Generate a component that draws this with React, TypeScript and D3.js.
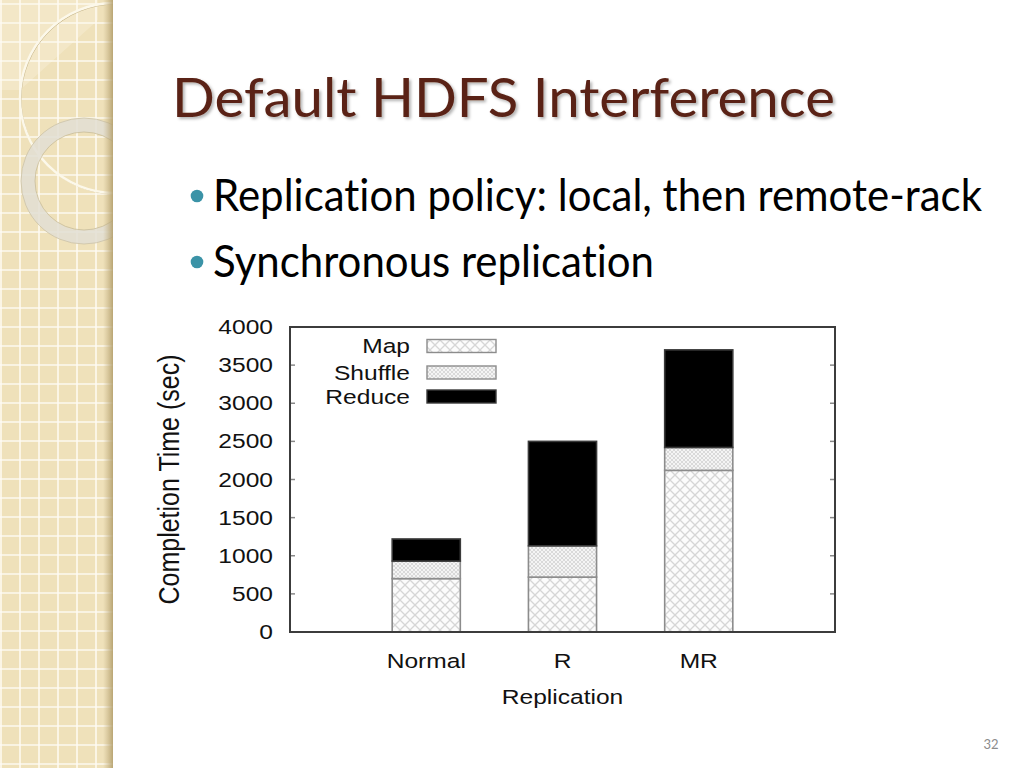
import React, { useEffect, useRef } from 'react';
import * as d3 from 'd3';

// chart data (seconds)
const categories = ['Normal', 'R', 'MR'];
const mapTimes = [700, 720, 2120];
const shuffleTimes = [230, 410, 300];
const reduceTimes = [290, 1370, 1280];
const phases = ['Map', 'Shuffle', 'Reduce'];
const yTicks = [0, 500, 1000, 1500, 2000, 2500, 3000, 3500, 4000];

// slide text
const slideTitle = 'Default HDFS Interference';
const bullets = ['Replication policy: local, then remote-rack', 'Synchronous replication'];
const pageNumber = '32';

export default function App() {
  const svgRef = useRef<SVGSVGElement>(null);

  useEffect(() => {
    if (!svgRef.current) return;
    const svg = d3.select(svgRef.current);
    svg.selectAll('*').remove();

    const W = 1024;
    const H = 768;
    const panelW = 113;
    const defs = svg.append('defs');

    svg.append('rect').attr('width', W).attr('height', H).attr('fill', '#fff');

    // ---- left decorative panel ----
    defs.append('clipPath').attr('id', 'panelClip')
      .append('rect').attr('width', panelW).attr('height', H);

    const edge = defs.append('linearGradient').attr('id', 'edgeShade');
    edge.append('stop').attr('offset', '0%').attr('stop-color', '#c3b083').attr('stop-opacity', 0);
    edge.append('stop').attr('offset', '100%').attr('stop-color', '#b39f6c').attr('stop-opacity', 0.9);

    const panel = svg.append('g').attr('clip-path', 'url(#panelClip)');
    panel.append('rect').attr('width', panelW).attr('height', H).attr('fill', '#efe1ba');

    const step = 19;
    panel.selectAll('line.v')
      .data(d3.range(1, panelW, step))
      .join('line')
      .attr('x1', d => d).attr('x2', d => d)
      .attr('y1', 0).attr('y2', H)
      .attr('stroke', '#fffdf6').attr('stroke-width', 1.6).attr('opacity', 0.9);
    panel.selectAll('line.h')
      .data(d3.range(4, H, step))
      .join('line')
      .attr('x1', 0).attr('x2', panelW)
      .attr('y1', d => d).attr('y2', d => d)
      .attr('stroke', '#fffdf6').attr('stroke-width', 1.6).attr('opacity', 0.9);

    // faint light wedge top-left
    panel.append('path')
      .attr('d', 'M0,0 L98,0 L98,20 L20,90 L0,90 Z')
      .attr('fill', '#fffaf0').attr('opacity', 0.25);

    // big thin circle
    panel.append('circle').attr('cx', 116).attr('cy', 99).attr('r', 95)
      .attr('fill', 'none').attr('stroke', '#c9b98e').attr('stroke-width', 1);
    panel.append('circle').attr('cx', 115).attr('cy', 98).attr('r', 95)
      .attr('fill', 'none').attr('stroke', '#fcf8ea').attr('stroke-width', 2.4);

    // translucent thick ring
    panel.append('circle').attr('cx', 84).attr('cy', 181).attr('r', 56)
      .attr('fill', 'none').attr('stroke', '#e2ded3').attr('stroke-width', 14).attr('opacity', 0.85);
    panel.append('circle').attr('cx', 84).attr('cy', 181).attr('r', 63)
      .attr('fill', 'none').attr('stroke', '#cdc3a6').attr('stroke-width', 0.8);
    panel.append('circle').attr('cx', 84).attr('cy', 181).attr('r', 49)
      .attr('fill', 'none').attr('stroke', '#c8bc9a').attr('stroke-width', 0.8);

    panel.append('rect').attr('x', 103).attr('width', 10).attr('height', H).attr('fill', 'url(#edgeShade)');

    // ---- title & bullets ----
    const shadow = defs.append('filter').attr('id', 'titleShadow')
      .attr('x', '-5%').attr('y', '-20%').attr('width', '110%').attr('height', '150%');
    shadow.append('feDropShadow')
      .attr('dx', 2).attr('dy', 2).attr('stdDeviation', 1.5)
      .attr('flood-color', '#000').attr('flood-opacity', 0.3);

    const slideFont = 'Lato, "Open Sans", sans-serif';

    svg.append('text')
      .attr('x', 172).attr('y', 117)
      .attr('font-family', slideFont)
      .attr('font-size', 54)
      .attr('fill', '#5a2415')
      .attr('textLength', 663)
      .attr('lengthAdjust', 'spacingAndGlyphs')
      .attr('filter', 'url(#titleShadow)')
      .style('font-variant-ligatures', 'none')
      .text(slideTitle);

    const bulletRows = [
      { text: bullets[0], y: 211, len: 769 },
      { text: bullets[1], y: 277, len: 441 },
    ];
    bulletRows.forEach(b => {
      svg.append('circle').attr('cx', 197).attr('cy', b.y - 15).attr('r', 6.3).attr('fill', '#3b93a7');
      svg.append('text')
        .attr('x', 213).attr('y', b.y)
        .attr('font-family', slideFont)
        .attr('font-size', 44)
        .attr('fill', '#000')
        .attr('textLength', b.len)
        .attr('lengthAdjust', 'spacingAndGlyphs')
        .style('font-variant-ligatures', 'none')
        .text(b.text);
    });

    svg.append('text')
      .attr('x', 991).attr('y', 749)
      .attr('text-anchor', 'middle')
      .attr('font-family', slideFont)
      .attr('font-size', 13)
      .attr('fill', '#8c8c8c')
      .text(pageNumber);

    // ---- chart ----
    const plot = { left: 290, right: 835, top: 327, bottom: 632 };
    const x = d3.scaleLinear().domain([0, 4]).range([plot.left, plot.right]);
    const y = d3.scaleLinear().domain([0, 4000]).range([plot.bottom, plot.top]);
    const barW = x(0.5) - x(0);
    const font = '"Liberation Sans", Arial, sans-serif';
    const fs = 19.5;
    const sx = 1.26; // the figure is stretched horizontally

    const mapPat = defs.append('pattern').attr('id', 'mapHatch')
      .attr('patternUnits', 'userSpaceOnUse').attr('width', 10).attr('height', 10);
    mapPat.append('rect').attr('width', 10).attr('height', 10).attr('fill', '#fcfcfc');
    mapPat.append('path').attr('d', 'M0,0 L10,10 M10,0 L0,10')
      .attr('stroke', '#d6d6d6').attr('stroke-width', 1.3);

    const shufPat = defs.append('pattern').attr('id', 'shuffleHatch')
      .attr('patternUnits', 'userSpaceOnUse').attr('width', 4).attr('height', 4);
    shufPat.append('rect').attr('width', 4).attr('height', 4).attr('fill', '#f4f4f4');
    shufPat.append('path').attr('d', 'M0,0 L4,4 M4,0 L0,4')
      .attr('stroke', '#d6d6d6').attr('stroke-width', 0.9);

    const fills: Record<string, string> = { Map: 'url(#mapHatch)', Shuffle: 'url(#shuffleHatch)', Reduce: '#000' };
    const strokes: Record<string, string> = { Map: '#8c8c8c', Shuffle: '#8c8c8c', Reduce: '#3a3a3a' };

    const rows = categories.map((c, i) => ({ cat: c, i, Map: mapTimes[i], Shuffle: shuffleTimes[i], Reduce: reduceTimes[i] }));
    const stacked = d3.stack<any>().keys(phases)(rows);

    const g = svg.append('g');
    stacked.forEach(layer => {
      g.selectAll(null)
        .data(layer)
        .join('rect')
        .attr('x', d => x(d.data.i + 1) - barW / 2)
        .attr('y', d => y(d[1]))
        .attr('width', barW)
        .attr('height', d => y(d[0]) - y(d[1]))
        .attr('fill', fills[layer.key])
        .attr('stroke', strokes[layer.key])
        .attr('stroke-width', 1.6);
    });

    // ticks (inward, both sides)
    yTicks.slice(1, -1).forEach(t => {
      g.append('line').attr('x1', plot.left).attr('x2', plot.left + 5)
        .attr('y1', y(t)).attr('y2', y(t)).attr('stroke', '#888').attr('stroke-width', 1.5);
      g.append('line').attr('x1', plot.right - 5).attr('x2', plot.right)
        .attr('y1', y(t)).attr('y2', y(t)).attr('stroke', '#888').attr('stroke-width', 1.5);
    });

    // frame
    g.append('rect')
      .attr('x', plot.left).attr('y', plot.top)
      .attr('width', plot.right - plot.left).attr('height', plot.bottom - plot.top)
      .attr('fill', 'none').attr('stroke', '#3c3c3c').attr('stroke-width', 2);

    const stretchedText = (px: number, py: number, txt: string, anchor: string) =>
      g.append('text')
        .attr('transform', `translate(${px},${py}) scale(${sx},1)`)
        .attr('text-anchor', anchor)
        .attr('font-family', font)
        .attr('font-size', fs)
        .attr('fill', '#111')
        .text(txt);

    yTicks.forEach(t => stretchedText(273, y(t) + 7, String(t), 'end'));
    categories.forEach((c, i) => stretchedText(x(i + 1), 668, c, 'middle'));
    stretchedText(x(2), 704, 'Replication', 'middle');

    g.append('text')
      .attr('transform', `translate(179,${(plot.top + plot.bottom) / 2}) scale(1.15,1) rotate(-90)`)
      .attr('text-anchor', 'middle')
      .attr('font-family', font)
      .attr('font-size', 25)
      .attr('fill', '#111')
      .text('Completion Time (sec)');

    // legend
    const legendY = [346, 372.5, 396.5];
    phases.forEach((p, k) => {
      stretchedText(410, legendY[k] + 7, p, 'end');
      g.append('rect')
        .attr('x', 427).attr('y', legendY[k] - 6.5)
        .attr('width', 69).attr('height', 13)
        .attr('fill', fills[p])
        .attr('stroke', strokes[p])
        .attr('stroke-width', 1.4);
    });
  }, []);

  return (
    <>
      <style>{'body{margin:0}'}</style>
      <svg ref={svgRef} width={1024} height={768} viewBox="0 0 1024 768" style={{ display: 'block' }} />
    </>
  );
}
